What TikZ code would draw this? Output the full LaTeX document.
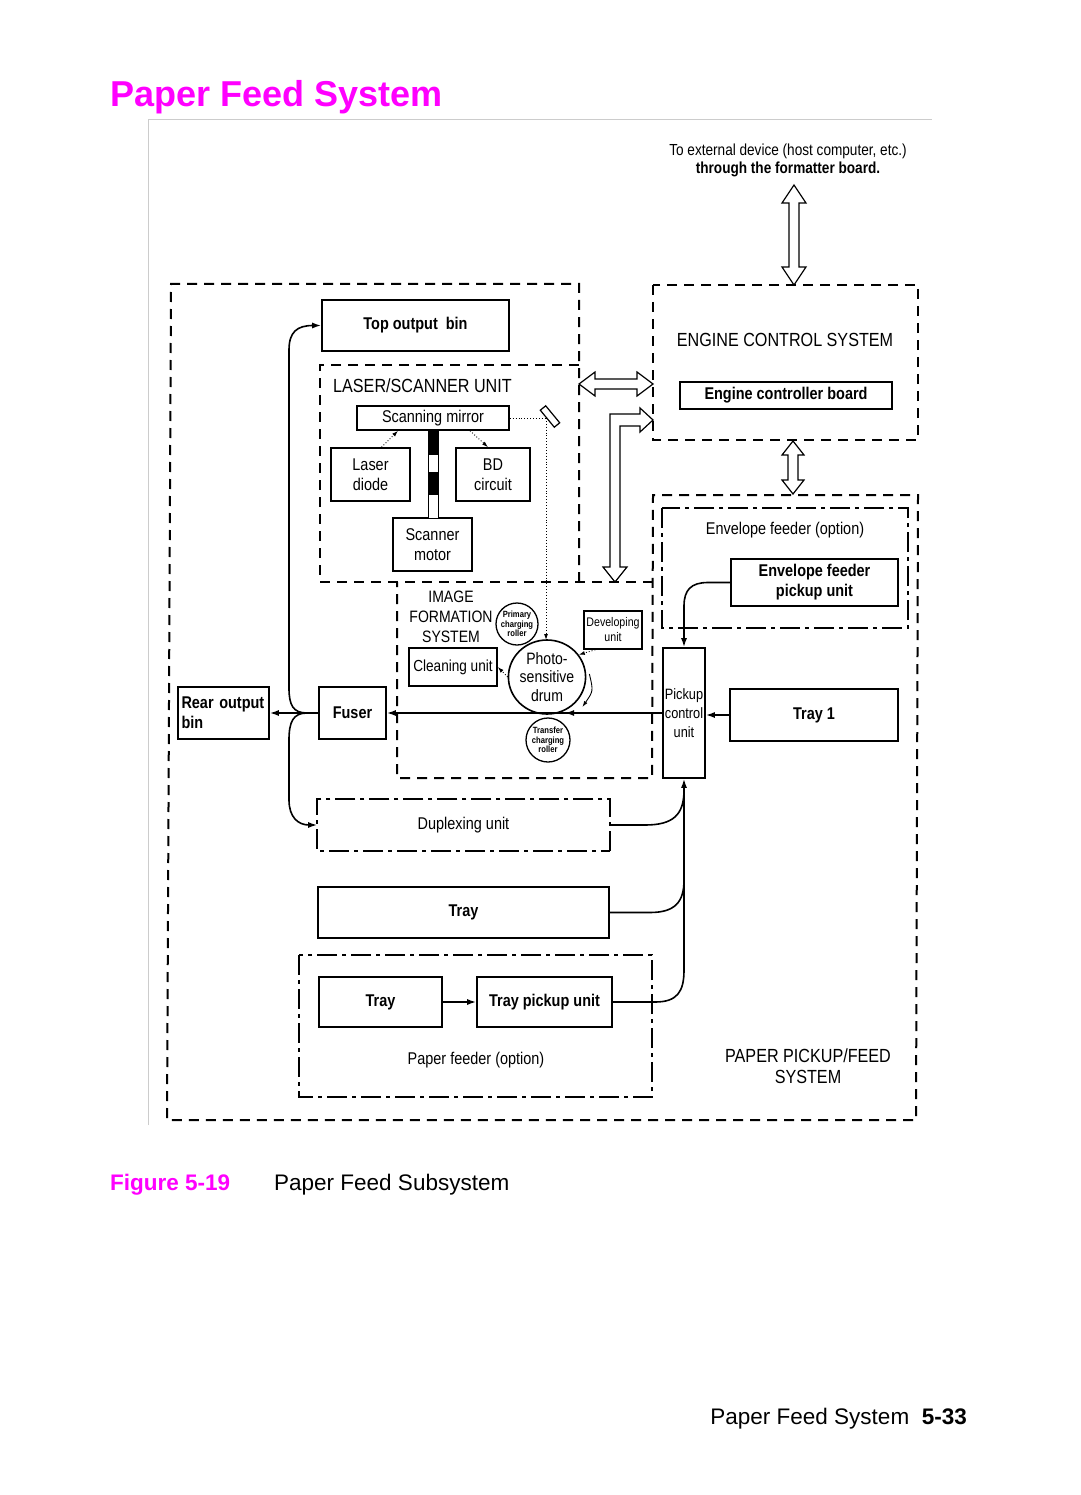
\documentclass[tikz,border=0pt]{standalone}
\usepackage{fontspec}
\setmainfont{Liberation Sans}
\newfontfamily\dfont[FakeStretch=0.85]{Liberation Sans}
\usetikzlibrary{arrows.meta,shapes.geometric,calc}
\definecolor{mag}{HTML}{FF00FF}
\newcommand\dsz[2]{\fontsize{#1}{#2}\selectfont}
\begin{document}
\begin{tikzpicture}[x=1pt,y=-1pt,
  box/.style={draw,line width=1.6pt,inner sep=0pt,align=center,font={\dfont\bfseries\dsz{17}{20}}},
  rbox/.style={box,font={\dfont\dsz{17}{20}}},
  dashline/.style={line width=2pt,dash pattern=on 10pt off 7pt},
  dashdot/.style={line width=2pt,dash pattern=on 20pt off 5pt on 4pt off 5pt},
  conn/.style={line width=1.6pt,-{Latex[length=9pt,width=6pt]}},
  plain/.style={line width=1.6pt},
  dotarr/.style={line width=0.9pt,dotted,-{Latex[length=6pt,width=4pt]}},
  rotarr/.style={line width=0.9pt,-{Latex[length=6pt,width=4pt]}},
  hollow/.style={line width=1.2pt,fill=white,line join=miter},
  lbl/.style={inner sep=0pt,font={\dfont\dsz{19}{21}},align=center},
  roller/.style={draw,circle,line width=1.3pt,inner sep=0pt,align=center,font={\dfont\bfseries\dsz{9}{9.5}}}
]
\useasboundingbox (0,0) rectangle (1080,1495);
\fill[white] (0,0) rectangle (1080,1495);

% title and frame
\node[anchor=base west,inner sep=0pt,text=mag,font={\bfseries\dsz{36}{40}}] (title) at (110,107) {Paper Feed System};
\draw[gray!40,line width=1pt] (148,1125) -- (148,120) -- (932,120);

% top note
\node[lbl,font={\dfont\dsz{16}{18}}] (note) at (788,160) {To external device (host computer, etc.)\\\textbf{through the formatter board.}};

% dashed system outlines
\draw[dashline] (579,582) -- (579,284) -- (171,284) -- (167,1120) -- (916,1120) -- (918,495) -- (653,495) -- (652,778) -- (397,778) -- (397,582);
\draw[dashline] (579,365) -- (320,365) -- (320,582) -- (652,582);
\draw[dashline] (653,285) rectangle (918,440);
\draw[dashdot] (662,508) rectangle (908,628);
\draw[dashdot] (299,955) rectangle (652,1097);

% labels
\node[lbl,anchor=west] (lsu) at (333,386) {LASER/SCANNER UNIT};
\node[lbl] (ecs) at (785,340) {ENGINE CONTROL SYSTEM};
\node[lbl,font={\dfont\dsz{16.5}{20}}] (ifs) at (451,617) {IMAGE\\FORMATION\\SYSTEM};
\node[lbl,font={\dfont\dsz{17}{20}}] (envlbl) at (785,530) {Envelope feeder (option)};
\node[lbl,font={\dfont\dsz{17}{20}}] (pflbl) at (476,1060) {Paper feeder (option)};
\node[lbl] (ppf) at (808,1066) {PAPER PICKUP/FEED\\SYSTEM};

% boxes
\node[box,minimum width=187pt,minimum height=51pt] (top) at (415.5,325.5) {Top output\ \ bin};
\node[rbox,minimum width=152pt,minimum height=24pt] (mirror) at (433,418) {Scanning mirror};
\node[rbox,minimum width=79pt,minimum height=53pt] (laser) at (370.5,474.5) {Laser\\diode};
\node[rbox,minimum width=74pt,minimum height=53pt] (bd) at (493,474.5) {BD\\circuit};
\node[rbox,minimum width=79pt,minimum height=53pt] (motor) at (432.5,544.5) {Scanner\\motor};
\node[box,minimum width=212pt,minimum height=27pt] (ecb) at (786,395.5) {Engine controller board};
\node[box,minimum width=167pt,minimum height=47pt] (envpu) at (814.5,582.5) {Envelope feeder\\pickup unit};
\node[rbox,minimum width=42pt,minimum height=130pt,font={\dfont\dsz{15}{19}}] (pcu) at (684,713) {Pickup\\control\\unit};
\node[box,minimum width=168pt,minimum height=52pt] (tray1) at (814,715) {Tray 1};
\node[box,minimum width=67pt,minimum height=52pt] (fuser) at (352.5,713) {Fuser};
\node[box,minimum width=91pt,minimum height=52pt,align=left,text width=84pt] (rear) at (223.5,713) {Rear output\\bin};
\node[rbox,draw=none,minimum width=291pt,minimum height=50pt] (dup) at (463.5,825) {Duplexing unit};
\draw[dashdot] (dup.south east) -- (dup.north east) -- (dup.north west) -- (dup.south west) -- (dup.south east);
\node[box,minimum width=291pt,minimum height=51pt] (tray2) at (463.5,912.5) {Tray};
\node[box,minimum width=123pt,minimum height=50pt] (tray3) at (380.5,1002) {Tray};
\node[box,minimum width=135pt,minimum height=50pt] (tpu) at (544.5,1002) {Tray pickup unit};
\node[rbox,minimum width=88pt,minimum height=38pt,font={\dfont\dsz{16}{18}}] (clean) at (453,667) {Cleaning unit};
\node[rbox,minimum width=58pt,minimum height=38pt,font={\dfont\dsz{12.5}{15}}] (dev) at (613,630) {Developing\\unit};
\node[roller,minimum size=42pt] (pcr) at (517,624) {Primary\\charging\\roller};
\node[draw,ellipse,line width=1.6pt,minimum width=66pt,minimum height=74pt,inner sep=0pt,align=center,font={\dfont\dsz{16.5}{18.5}}] (drum) at (547,677) {Photo-\\sensitive\\drum};
\node[roller,minimum size=44pt] (tcr) at (548,740) {Transfer\\charging\\roller};

% scanner shaft
\draw[line width=1pt,fill=white] (428,430) rectangle (438,518);
\fill (428,430) rectangle (438,455);
\fill (428,472) rectangle (438,495);

% small mirror
\draw[line width=1.2pt,fill=white] (559.7,422.8) -- (554.3,427.2) -- (540.3,410.2) -- (545.7,405.8) -- cycle;

% laser paths (dotted)
\draw[dotarr] ($(laser.north)+(11,0)$) -- ($(mirror.south)+(-35,0)$);
\draw[dotarr] ($(mirror.south)+(37,0)$) -- ($(bd.north)+(-5,0)$);
\draw[line width=0.9pt,dotted] (mirror.east) -- (546,418);
\coordinate (drumtop) at (546,640);
\draw[dotarr] (546,418) -- (drumtop);
\draw[dotarr] (drum.west) -- (clean.east);
\draw[dotarr] ($(dev.south west)+(12,0)$) -- (drum.35);
\draw[rotarr] ($(drum.east)+(3,-3)$) .. controls ($(drum.east)+(7,14)$) .. ($(drum.east)+(-4,30)$);

% paper path
\draw[conn] (pcu.west) -- (fuser.east);
\coordinate (nip) at (565,713);
\draw[conn] (pcu.west) -- (nip);
\draw[conn] (fuser.west) -- (rear.east);
\draw[conn] (fuser.west) -- (307,713) .. controls (293,713) and (289,705) .. (289,688) -- (289,350) .. controls (289,332) and (297,325.5) .. (top.west);
\draw[conn] (fuser.west) -- (307,713) .. controls (293,713) and (289,722) .. (289,740) -- (289,800) .. controls (289,817) and (298,825) .. (dup.west);
\draw[conn] (tray1.west) -- (tray1.west -| pcu.east);
\draw[conn] (envpu.west) -- (708,582.5) .. controls (691,582.5) and (684,590) .. (684,606) -- (pcu.north);
\draw[conn] (tpu.east) -- (655,1002) .. controls (677,1002) and (684,992) .. (684,970) -- (pcu.south);
\draw[plain] (tray2.east) -- (650,912.5) .. controls (675,912.5) and (684,902) .. (684,880);
\draw[plain] (dup.east) -- (645,825) .. controls (673,825) and (684,815) .. (684,790);
\draw[conn] (tray3.east) -- (tpu.west);

% hollow arrows
\draw[hollow] (794,185) -- (806,203) -- (799,203) -- (799,267) -- (806,267) -- (794,285) -- (782,267) -- (789,267) -- (789,203) -- (782,203) -- cycle;
\draw[hollow] (793,441) -- (804,455) -- (798,455) -- (798,480) -- (804,480) -- (793,494) -- (782,480) -- (788,480) -- (788,455) -- (782,455) -- cycle;
\draw[hollow] (579,384) -- (595,372) -- (595,379) -- (637,379) -- (637,372) -- (653,384) -- (637,396) -- (637,389) -- (595,389) -- (595,396) -- cycle;
\draw[hollow] (653,420) -- (640,408) -- (640,414) -- (610,414) -- (610,567) -- (603,567) -- (615,582) -- (627,567) -- (620,567) -- (620,426) -- (640,426) -- (640,432) -- cycle;

% caption and footer
\node[anchor=base west,inner sep=0pt,text=mag,font={\bfseries\dsz{22.5}{26}}] (fig) at (110,1190) {Figure 5-19};
\node[anchor=base west,inner sep=0pt,font={\dsz{22.5}{26}}] (cap) at (274,1190) {Paper Feed Subsystem};
\node[anchor=base east,inner sep=0pt,font={\dsz{22.5}{26}}] (foot) at (967,1424) {Paper Feed System\ \ \textbf{5-33}};
\end{tikzpicture}
\end{document}
